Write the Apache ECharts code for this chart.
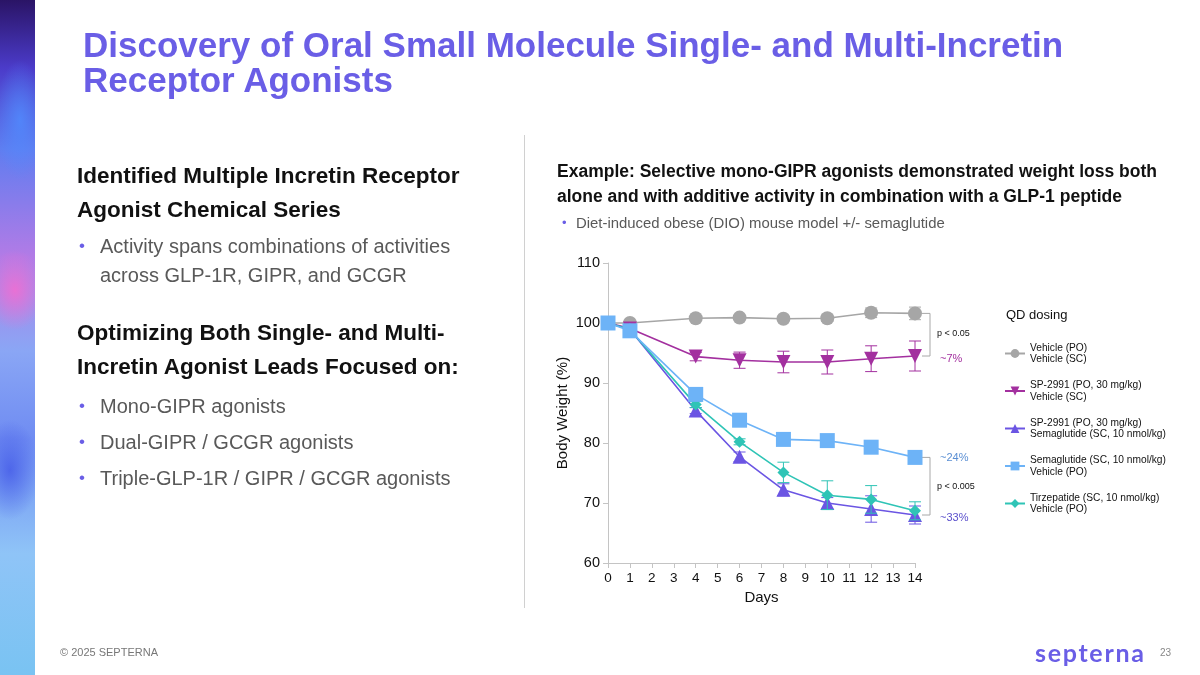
<!DOCTYPE html>
<html>
<head>
<meta charset="utf-8">
<script src="https://cdn.jsdelivr.net/npm/echarts@6/dist/echarts.min.js"></script>
<style>
  html, body { margin: 0; padding: 0; background: #fff; }
  #page { position: relative; width: 1200px; height: 675px; overflow: hidden; font-family: "Liberation Sans", Arial, sans-serif; }
  #main { position: absolute; left: 0; top: 0; width: 1200px; height: 675px; }
  .strip { position: absolute; left: 0; top: 0; width: 35px; height: 675px;
    background:
      radial-gradient(ellipse 30px 40px at 15px 290px, rgba(240,110,210,0.9), rgba(240,110,210,0) 100%),
      radial-gradient(ellipse 25px 60px at 20px 120px, rgba(80,140,255,0.8), rgba(80,140,255,0) 100%),
      radial-gradient(ellipse 30px 50px at 10px 470px, rgba(60,80,230,0.7), rgba(60,80,230,0) 100%),
      linear-gradient(180deg, #2a1466 0%, #4b3bc9 10%, #5f7df0 22%, #b27be6 38%, #8aa6f5 52%, #6f8cf2 65%, #8fc4f7 82%, #79c3f2 100%); }
  .txt { position: absolute; z-index: 2; white-space: nowrap; }
  .title { left: 83px; top: 27px; font-size: 35px; line-height: 35px; font-weight: bold; color: #6A5EE6; }
  .head { font-size: 22.5px; line-height: 34px; font-weight: bold; color: #111; }
  .bul { font-size: 20px; line-height: 34px; color: #595959; }
  .bul::before { content: "•"; color: #6A5EE6; position: absolute; left: -21px; font-size: 17px; }
  .bul.nob::before { content: ""; }
  .rhead { left: 557px; top: 159px; font-size: 17.5px; line-height: 25px; font-weight: bold; color: #111; }
  .rbul { left: 576px; top: 214px; font-size: 14.9px; line-height: 18px; color: #595959; }
  .rbul::before { content: "•"; color: #6A5EE6; position: absolute; left: -14px; font-size: 13px; }
  .divider { position: absolute; left: 524px; top: 135px; width: 1px; height: 473px; background: #d0d0d0; }
  .foot { left: 60px; top: 646px; font-size: 11px; color: #777; }
  .logo { left: 1035px; top: 637px; font-family: "Lato", "Inter", sans-serif; font-weight: bold; font-size: 25px; color: #6A5EE6; letter-spacing: 1.7px; }
  .pnum { left: 1160px; top: 647px; font-size: 10px; color: #888; }
</style>
</head>
<body>
<div id="page">
  <div class="strip"></div>
  <div id="main"></div>
  <div class="txt title">Discovery of Oral Small Molecule Single- and Multi-Incretin<br>Receptor Agonists</div>

  <div class="txt head" style="left:77px; top:159px;">Identified Multiple Incretin Receptor<br>Agonist Chemical Series</div>
  <div class="txt bul" style="left:100px; top:229px;">Activity spans combinations of activities</div>
  <div class="txt bul nob" style="left:100px; top:258px;">across GLP-1R, GIPR, and GCGR</div>

  <div class="txt head" style="left:77px; top:316px;">Optimizing Both Single- and Multi-<br>Incretin Agonist Leads Focused on:</div>
  <div class="txt bul" style="left:100px; top:389px;">Mono-GIPR agonists</div>
  <div class="txt bul" style="left:100px; top:425px;">Dual-GIPR / GCGR agonists</div>
  <div class="txt bul" style="left:100px; top:461px;">Triple-GLP-1R / GIPR / GCGR agonists</div>

  <div class="divider"></div>

  <div class="txt rhead">Example: Selective mono-GIPR agonists demonstrated weight loss both<br>alone and with additive activity in combination with a GLP-1 peptide</div>
  <div class="txt rbul">Diet-induced obese (DIO) mouse model +/- semaglutide</div>

  <div class="txt foot">© 2025 SEPTERNA</div>
  <div class="txt logo">septerna</div>
  <div class="txt pnum">23</div>
</div>
<script>
// study days
var days = [0, 1, 4, 6, 8, 10, 12, 14];

// mean body weight (% of day 0) and error (+/-)
var vehicleMean = [100, 100, 100.8, 100.9, 100.7, 100.8, 101.7, 101.6];
var vehicleErr = [0, 0, 0.3, 0.3, 0.3, 0.55, 0.8, 1.05];
var sp2991Mean = [100, 99.1, 94.4, 93.8, 93.5, 93.5, 94.05, 94.5];
var sp2991Err = [0, 0, 0.7, 1.35, 1.8, 2.0, 2.15, 2.5];
var comboMean = [100, 98.9, 85.4, 77.7, 72.2, 70.0, 69.0, 68.0];
var comboErr = [0, 0, 0.5, 0.8, 1.0, 0.9, 2.2, 1.5];
var semaMean = [100, 98.7, 88.1, 83.8, 80.6, 80.4, 79.3, 77.6];
var semaErr = [0, 0.3, 0.4, 0.5, 0.5, 0.6, 0.65, 0.65];
var tirzMean = [100, 98.9, 86.4, 80.2, 75.1, 71.3, 70.6, 68.7];
var tirzErr = [0, 0, 0.5, 0.5, 1.7, 2.4, 2.3, 1.5];

var groupNames = [
  'Vehicle (PO)\nVehicle (SC)',
  'SP-2991 (PO, 30 mg/kg)\nVehicle (SC)',
  'SP-2991 (PO, 30 mg/kg)\nSemaglutide (SC, 10 nmol/kg)',
  'Semaglutide (SC, 10 nmol/kg)\nVehicle (PO)',
  'Tirzepatide (SC, 10 nmol/kg)\nVehicle (PO)'
];
var groupColors = ['#a6a6a6', '#a3309f', '#6b55e3', '#6db3f7', '#2fc4b6'];
var groupSymbols = ['circle', 'triangle', 'triangle', 'rect', 'diamond'];
var groupSymbolRotate = [0, 180, 0, 0, 0];
var groupSymbolSize = [14, 14, 14, 15, 12];
var groupZ = [2, 3, 4, 6, 5];

var means = [vehicleMean, sp2991Mean, comboMean, semaMean, tirzMean];
var errs = [vehicleErr, sp2991Err, comboErr, semaErr, tirzErr];

var chart = echarts.init(document.getElementById('main'));

function pairs(arr) {
  return days.map(function (d, i) { return [d, arr[i]]; });
}

function errorSeries(k) {
  var data = [];
  for (var i = 0; i < days.length; i++) {
    if (errs[k][i] > 0.25)
      data.push([days[i], means[k][i] - errs[k][i], means[k][i] + errs[k][i]]);
  }
  return {
    type: 'custom',
    name: groupNames[k] + ' err',
    z: groupZ[k],
    silent: true,
    data: data,
    encode: { x: 0, y: [1, 2] },
    renderItem: function (params, api) {
      var lo = api.coord([api.value(0), api.value(1)]);
      var hi = api.coord([api.value(0), api.value(2)]);
      var w = 6;
      var st = { stroke: groupColors[k], lineWidth: 1 };
      return {
        type: 'group',
        children: [
          { type: 'line', shape: { x1: lo[0], y1: lo[1], x2: hi[0], y2: hi[1] }, style: st },
          { type: 'line', shape: { x1: lo[0] - w, y1: lo[1], x2: lo[0] + w, y2: lo[1] }, style: st },
          { type: 'line', shape: { x1: hi[0] - w, y1: hi[1], x2: hi[0] + w, y2: hi[1] }, style: st }
        ]
      };
    }
  };
}

var series = [];
for (var k = 0; k < 5; k++) {
  series.push(errorSeries(k));
  series.push({
    type: 'line',
    name: groupNames[k],
    data: pairs(means[k]),
    z: groupZ[k],
    symbol: groupSymbols[k],
    symbolRotate: groupSymbolRotate[k],
    symbolSize: groupSymbolSize[k],
    showAllSymbol: true,
    itemStyle: { color: groupColors[k], opacity: 1 },
    lineStyle: { color: groupColors[k], width: 1.6 },
    emphasis: { disabled: true },
    animation: false
  });
}

var axisColor = '#c4c4c4';
var option = {
  animation: false,
  grid: { left: 608, top: 263, width: 307, height: 300 },
  xAxis: {
    type: 'value', min: 0, max: 14, interval: 1,
    name: 'Days', nameLocation: 'middle', nameGap: 27,
    nameTextStyle: { fontSize: 15, color: '#111', fontFamily: 'Liberation Sans' },
    axisLine: { lineStyle: { color: axisColor } },
    axisTick: { show: true, length: 5, lineStyle: { color: axisColor } },
    axisLabel: { fontSize: 13.5, color: '#111', margin: 8, fontFamily: 'Liberation Sans' },
    splitLine: { show: false }
  },
  yAxis: {
    type: 'value', min: 60, max: 110, interval: 10,
    name: 'Body Weight (%)', nameLocation: 'middle', nameGap: 38, nameRotate: 90,
    nameTextStyle: { fontSize: 15, color: '#111', fontFamily: 'Liberation Sans' },
    axisLine: { show: true, lineStyle: { color: axisColor } },
    axisTick: { show: true, length: 5, lineStyle: { color: axisColor } },
    axisLabel: { fontSize: 14.5, color: '#111', margin: 8, fontFamily: 'Liberation Sans' },
    splitLine: { show: false }
  },
  legend: {
    data: groupNames,
    orient: 'vertical',
    left: 999, top: 337,
    itemWidth: 20, itemHeight: 11,
    itemGap: 14.5,
    selectedMode: false,
    textStyle: { fontSize: 10.2, lineHeight: 11.5, color: '#111', fontFamily: 'Liberation Sans' }
  },
  series: series
};
chart.setOption(option);

// brackets beside the day-14 points
function px(v) { return chart.convertToPixel({ gridIndex: 0 }, [14, v]); }
var bx = 930;
var b1a = px(vehicleMean[7])[1], b1b = px(sp2991Mean[7])[1];
var b2a = px(semaMean[7])[1], b2b = px(comboMean[7])[1];
var bstyle = { stroke: '#a8a8a8', lineWidth: 1 };
function bracket(y1, y2) {
  return {
    type: 'polyline', shape: { points: [[bx - 8, y1], [bx, y1], [bx, y2], [bx - 8, y2]] }, style: bstyle
  };
}
function label(x, y, text, size, color) {
  return { type: 'text', x: x, y: y, style: { text: text, fontSize: size, fill: color, fontFamily: 'Liberation Sans', verticalAlign: 'middle' } };
}
chart.setOption({
  graphic: [
    bracket(b1a, b1b),
    bracket(b2a, b2b),
    label(937, (b1a + b1b) / 2 - 1, 'p < 0.05', 9, '#111'),
    label(940, b1b + 3, '~7%', 11, '#a3309f'),
    label(937, (b2a + b2b) / 2 - 0, 'p < 0.005', 9, '#111'),
    label(940, b2a + 1, '~24%', 11, '#5b8fd3'),
    label(940, b2b + 3, '~33%', 11, '#5a4fcc'),
    label(1006, 315, 'QD dosing', 13, '#111')
  ]
});
</script>
</body>
</html>
